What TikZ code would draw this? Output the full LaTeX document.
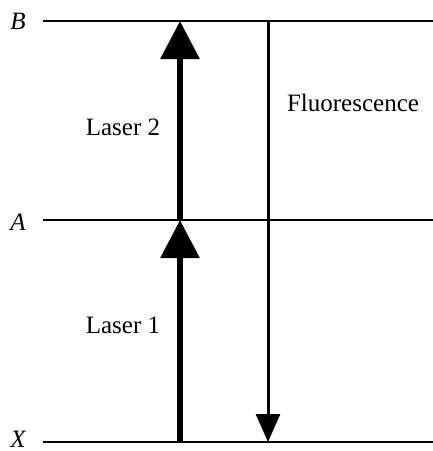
\documentclass[tikz,border=0pt]{standalone}
\usepackage{fontspec}
\setmainfont{Liberation Serif}
\usetikzlibrary{arrows.meta, positioning}

\begin{document}
\begin{tikzpicture}[
  x=0.5pt, y=-0.5pt,
  level/.style={line width=1pt},
  lab/.style={font=\fontsize{12.5}{15}\selectfont\itshape, anchor=center},
  txt/.style={font=\fontsize{12.5}{15}\selectfont, anchor=center},
  laser/.style={line width=3pt, -{Triangle[width=19pt, length=19pt]}},
  fluo/.style={line width=1.5pt, -{Triangle[width=12pt, length=14pt]}}
]
\useasboundingbox (0,0) rectangle (433,451);

% energy levels
\node[lab] (Blab) at (18,21) {B};
\node[lab] (Alab) at (18,222) {A};
\node[lab] (Xlab) at (18,439) {X};
\coordinate (Bl) at (43,21);  \coordinate (Br) at (433,21);
\coordinate (Al) at (43,220); \coordinate (Ar) at (433,220);
\coordinate (Xl) at (43,442); \coordinate (Xr) at (433,442);
\draw[level] (Bl) -- (Br);
\draw[level] (Al) -- (Ar);
\draw[level] (Xl) -- (Xr);

% transitions
\coordinate (l1s) at (180,442); \coordinate (l1e) at (180,220);
\coordinate (l2s) at (180,220); \coordinate (l2e) at (180,21);
\coordinate (fs) at (268,21);   \coordinate (fe) at (268,442);
\draw[laser] (l1s) -- (l1e);
\draw[laser] (l2s) -- (l2e);
\draw[fluo] (fs) -- (fe);

\node[txt] (las1) at (123,325) {Laser 1};
\node[txt] (las2) at (123,127) {Laser 2};
\node[txt] (fl) at (353,103) {Fluorescence};
\end{tikzpicture}
\end{document}
